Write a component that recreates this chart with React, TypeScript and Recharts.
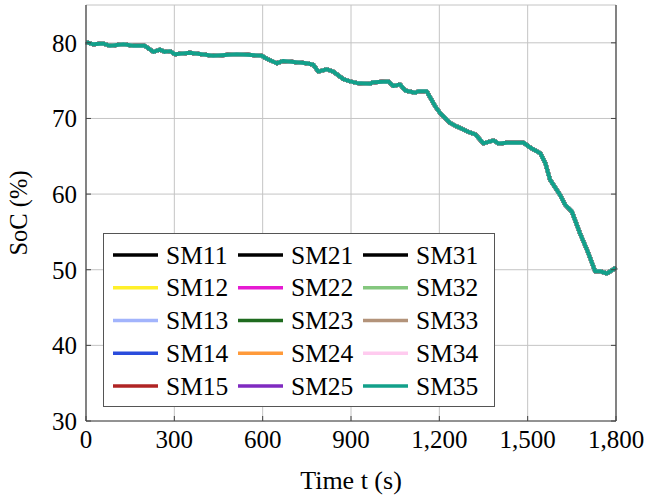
import React from 'react';
import { LineChart, Line, XAxis, YAxis, CartesianGrid } from 'recharts';

const TIME = [0, 25, 59, 82, 127, 161, 200, 229, 251, 268, 285, 302, 353, 432, 512, 597, 614, 648, 670, 750, 772, 789, 818, 840, 874, 897, 919, 965, 976, 1027, 1044, 1067, 1084, 1118, 1129, 1157, 1186, 1203, 1237, 1259, 1294, 1322, 1350, 1384, 1401, 1430, 1486, 1503, 1520, 1543, 1560, 1576, 1610, 1627, 1650, 1678, 1706, 1729, 1746, 1769, 1797, 1800];
const SOC = [80.1, 79.8, 79.9, 79.6, 79.8, 79.6, 79.6, 78.8, 79.1, 78.8, 78.9, 78.5, 78.7, 78.3, 78.5, 78.3, 77.9, 77.3, 77.6, 77.3, 77.1, 76.2, 76.5, 76.2, 75.2, 74.9, 74.7, 74.6, 74.8, 74.9, 74.3, 74.5, 73.7, 73.4, 73.6, 73.6, 71.6, 70.7, 69.4, 68.95, 68.3, 67.9, 66.7, 67.1, 66.7, 66.8, 66.8, 66.3, 65.9, 65.4, 64.1, 61.9, 59.9, 58.6, 57.7, 54.8, 52.2, 49.8, 49.8, 49.5, 50.2, 50.3];

const X_TICKS = [0, 300, 600, 900, 1200, 1500, 1800];
const Y_TICKS = [30, 40, 50, 60, 70, 80];

// legend grid order: rows x columns
const LEGEND_ROWS = [
  ['SM11', 'SM21', 'SM31'],
  ['SM12', 'SM22', 'SM32'],
  ['SM13', 'SM23', 'SM33'],
  ['SM14', 'SM24', 'SM34'],
  ['SM15', 'SM25', 'SM35'],
];
const SERIES_NAMES = ['SM11', 'SM12', 'SM13', 'SM14', 'SM15', 'SM21', 'SM22', 'SM23', 'SM24', 'SM25', 'SM31', 'SM32', 'SM33', 'SM34', 'SM35'];
const SERIES_COLORS: Record<string, string> = {
  SM11: '#000000', SM12: '#fff02a', SM13: '#a2b4fc', SM14: '#2a4cdc', SM15: '#b02424',
  SM21: '#000000', SM22: '#e61ad2', SM23: '#1f6b1f', SM24: '#ff9a3a', SM25: '#7f2ac0',
  SM31: '#000000', SM32: '#84c77e', SM33: '#b3937a', SM34: '#ffcbef', SM35: '#12a08a',
};

const data = TIME.map((t, i) => {
  const row: Record<string, number> = { t };
  SERIES_NAMES.forEach((n) => { row[n] = SOC[i]; });
  return row;
});

const FONT = 'Liberation Serif';
const AXIS = '#444';
const fmt = (v: number) => v.toLocaleString('en-US');

const XTickBottom = (props: any) => {
  const { x, y, payload } = props;
  return (
    <g>
      <line x1={x} x2={x} y1={y} y2={y - 5} stroke={AXIS} strokeWidth={1} />
      <text x={x} y={y + 27} textAnchor="middle" fontFamily={FONT} fontSize={25} fill="#000">{fmt(payload.value)}</text>
    </g>
  );
};
const XTickTop = (props: any) => {
  const { x, y } = props;
  return <line x1={x} x2={x} y1={y} y2={y + 5} stroke={AXIS} strokeWidth={1} />;
};
const YTickLeft = (props: any) => {
  const { x, y, payload } = props;
  return (
    <g>
      <line x1={x} x2={x + 5} y1={y} y2={y} stroke={AXIS} strokeWidth={1} />
      <text x={x - 9} y={y + 9} textAnchor="end" fontFamily={FONT} fontSize={25} fill="#000">{payload.value}</text>
    </g>
  );
};
const YTickRight = (props: any) => {
  const { x, y } = props;
  return <line x1={x} x2={x - 5} y1={y} y2={y} stroke={AXIS} strokeWidth={1} />;
};

const LegendBox = () => (
  <div style={{ position: 'absolute', left: 103, top: 233, width: 392, height: 174, border: '1.5px solid #555', background: '#fff', boxSizing: 'border-box' }}>
    <svg width={389} height={171} style={{ display: 'block' }}>
      {LEGEND_ROWS.map((row, ri) =>
        row.map((name, ci) => {
          const cy = 21 + ri * 32.75;
          const lx = 9 + ci * 125;
          return (
            <g key={name}>
              <line x1={lx} x2={lx + 45} y1={cy} y2={cy} stroke={SERIES_COLORS[name]} strokeWidth={3.5} />
              <text x={lx + 53} y={cy + 8.5} fontFamily={FONT} fontSize={25.5} fill="#000">{name}</text>
            </g>
          );
        })
      )}
    </svg>
  </div>
);

export default function App() {
  return (
    <div style={{ position: 'absolute', left: 0, top: 0, width: 645, height: 499, background: '#fff' }}>
      <LineChart width={645} height={499} data={data} margin={{ top: 5, right: 0, left: 0, bottom: 0 }}>
        <CartesianGrid stroke="#c4c4c4" strokeWidth={1} />
        <XAxis dataKey="t" type="number" domain={[0, 1800]} ticks={X_TICKS} height={78}
          tickSize={0} tickMargin={0} tick={<XTickBottom />} axisLine={{ stroke: AXIS, strokeWidth: 1.2 }} interval={0} />
        <XAxis xAxisId="top" orientation="top" dataKey="t" type="number" domain={[0, 1800]} ticks={X_TICKS} height={0}
          tickSize={0} tickMargin={0} tick={<XTickTop />} axisLine={{ stroke: AXIS, strokeWidth: 1.2 }} interval={0} />
        <YAxis type="number" domain={[30, 85]} ticks={Y_TICKS} width={86} allowDataOverflow
          tickSize={0} tickMargin={0} tick={<YTickLeft />} axisLine={{ stroke: AXIS, strokeWidth: 1.2 }} interval={0} />
        <YAxis yAxisId="right" orientation="right" type="number" domain={[30, 85]} ticks={Y_TICKS} width={29} allowDataOverflow
          tickSize={0} tickMargin={0} tick={<YTickRight />} axisLine={{ stroke: AXIS, strokeWidth: 1.2 }} interval={0} />
        {SERIES_NAMES.map((n) => (
          <Line key={n} type="linear" dataKey={n} stroke={SERIES_COLORS[n]} strokeWidth={4} dot={false}
            isAnimationActive={false} strokeLinejoin="round" />
        ))}
      </LineChart>
      <LegendBox />
      <svg width={645} height={499} style={{ position: 'absolute', left: 0, top: 0, pointerEvents: 'none' }}>
        <text x={351} y={489} textAnchor="middle" fontFamily={FONT} fontSize={26} fill="#000">Time t (s)</text>
        <text x={0} y={0} transform="translate(27,213) rotate(-90)" textAnchor="middle" fontFamily={FONT} fontSize={24.5} fill="#000">SoC (%)</text>
      </svg>
    </div>
  );
}
